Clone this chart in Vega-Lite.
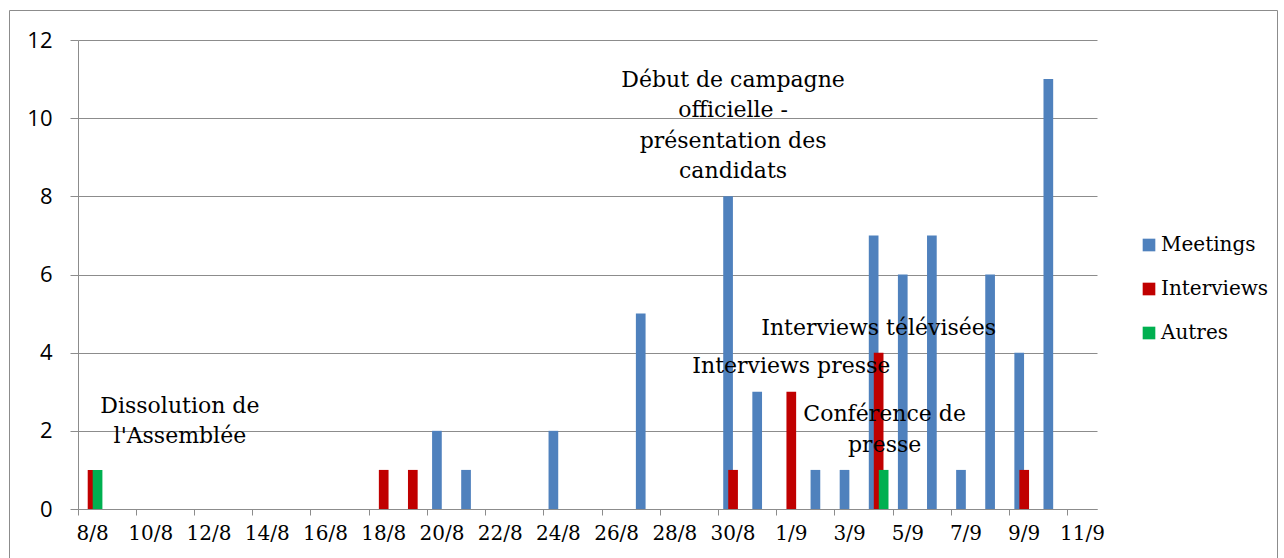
{
  "$schema": "https://vega.github.io/schema/vega-lite/v6.json",
  "autosize": {"type": "none"},
  "padding": {"left": 9, "top": 10, "right": 7, "bottom": -5},
  "width": 1268,
  "height": 553,
  "background": "white",
  "config": {
    "view": {"stroke": "#8c8c8c", "strokeWidth": 1},
    "font": "DejaVu Serif"
  },
  "datasets": {
    "bars": [
      {"date": "20/8", "serie": "Meetings", "value": 2},
      {"date": "21/8", "serie": "Meetings", "value": 1},
      {"date": "24/8", "serie": "Meetings", "value": 2},
      {"date": "27/8", "serie": "Meetings", "value": 5},
      {"date": "30/8", "serie": "Meetings", "value": 8},
      {"date": "31/8", "serie": "Meetings", "value": 3},
      {"date": "2/9", "serie": "Meetings", "value": 1},
      {"date": "3/9", "serie": "Meetings", "value": 1},
      {"date": "4/9", "serie": "Meetings", "value": 7},
      {"date": "5/9", "serie": "Meetings", "value": 6},
      {"date": "6/9", "serie": "Meetings", "value": 7},
      {"date": "7/9", "serie": "Meetings", "value": 1},
      {"date": "8/9", "serie": "Meetings", "value": 6},
      {"date": "9/9", "serie": "Meetings", "value": 4},
      {"date": "10/9", "serie": "Meetings", "value": 11},
      {"date": "8/8", "serie": "Interviews", "value": 1},
      {"date": "18/8", "serie": "Interviews", "value": 1},
      {"date": "19/8", "serie": "Interviews", "value": 1},
      {"date": "30/8", "serie": "Interviews", "value": 1},
      {"date": "1/9", "serie": "Interviews", "value": 3},
      {"date": "4/9", "serie": "Interviews", "value": 4},
      {"date": "9/9", "serie": "Interviews", "value": 1},
      {"date": "8/8", "serie": "Autres", "value": 1},
      {"date": "4/9", "serie": "Autres", "value": 1}
    ],
    "notes": [
      {"date": "11/8", "y": 2.46, "label": "Dissolution de\nl'Assemblée"},
      {"date": "30/8", "y": 10.8, "label": "Début de campagne\nofficielle -\nprésentation des\ncandidats"},
      {"date": "4/9", "y": 4.45, "label": "Interviews télévisées"},
      {"date": "1/9", "y": 3.48, "label": "Interviews presse"}
    ],
    "notes2": [
      {"date": "4/9", "y": 2.25, "label": "Conférence de\npresse"}
    ]
  },
  "layer": [
    {
      "data": {"name": "bars"},
      "transform": [{"filter": "datum.serie == 'Meetings'"}],
      "mark": {"type": "bar", "width": {"band": 0.333}, "xOffset": -5},
      "encoding": {
        "x": {
          "field": "date", "type": "ordinal",
          "scale": {
            "domain": ["8/8","9/8","10/8","11/8","12/8","13/8","14/8","15/8","16/8","17/8","18/8","19/8","20/8","21/8","22/8","23/8","24/8","25/8","26/8","27/8","28/8","29/8","30/8","31/8","1/9","2/9","3/9","4/9","5/9","6/9","7/9","8/9","9/9","10/9","11/9"],
            "range": [69, 1088], "paddingInner": 0, "paddingOuter": 0
          },
          "axis": {
            "orient": "bottom", "offset": -54, "title": null,
            "values": ["8/8","10/8","12/8","14/8","16/8","18/8","20/8","22/8","24/8","26/8","28/8","30/8","1/9","3/9","5/9","7/9","9/9","11/9"],
            "bandPosition": 0,
            "tickSize": 6, "tickColor": "#8c8c8c",
            "domainColor": "#8c8c8c", "labelAngle": 0,
            "labelFont": "DejaVu Serif", "labelFontSize": 20, "labelColor": "#000000",
            "labelPadding": 8, "grid": false
          }
        },
        "y": {
          "field": "value", "type": "quantitative",
          "scale": {"domain": [0, 12], "range": [499, 30], "nice": false, "zero": true},
          "axis": {
            "orient": "left", "offset": -69, "title": null,
            "values": [0, 2, 4, 6, 8, 10, 12],
            "grid": true, "gridColor": "#8c8c8c", "domainColor": "#8c8c8c",
            "tickColor": "#8c8c8c", "tickSize": 8,
            "labelFont": "Open Sans", "labelFontSize": 22, "labelColor": "#000000",
            "labelPadding": 18
          }
        },
        "color": {
          "field": "serie", "type": "nominal",
          "scale": {"domain": ["Meetings", "Interviews", "Autres"], "range": ["#4F81BD", "#C00000", "#00B050"]},
          "legend": {
            "orient": "none", "legendX": 1130, "legendY": 225, "title": null,
            "symbolType": "square", "symbolSize": 160, "symbolStrokeWidth": 0,
            "labelFont": "DejaVu Serif", "labelFontSize": 20, "labelColor": "#000000",
            "rowPadding": 24, "labelOffset": 2
          }
        }
      }
    },
    {
      "data": {"name": "bars"},
      "transform": [{"filter": "datum.serie == 'Interviews'"}],
      "mark": {"type": "bar", "width": {"band": 0.333}, "xOffset": 0},
      "encoding": {
        "x": {"field": "date", "type": "ordinal"},
        "y": {"field": "value", "type": "quantitative"},
        "color": {"field": "serie", "type": "nominal"}
      }
    },
    {
      "data": {"name": "bars"},
      "transform": [{"filter": "datum.serie == 'Autres'"}],
      "mark": {"type": "bar", "width": {"band": 0.333}, "xOffset": 5},
      "encoding": {
        "x": {"field": "date", "type": "ordinal"},
        "y": {"field": "value", "type": "quantitative"},
        "color": {"field": "serie", "type": "nominal"}
      }
    },
    {
      "data": {"name": "notes"},
      "mark": {"type": "text", "lineBreak": "\n", "font": "DejaVu Serif", "fontSize": 22, "lineHeight": 30.5, "baseline": "alphabetic", "align": "center", "color": "#000000"},
      "encoding": {
        "x": {"field": "date", "type": "ordinal"},
        "y": {"field": "y", "type": "quantitative"},
        "text": {"field": "label"}
      }
    },
    {
      "data": {"name": "notes2"},
      "mark": {"type": "text", "lineBreak": "\n", "font": "DejaVu Serif", "fontSize": 22, "lineHeight": 30.5, "baseline": "alphabetic", "align": "center", "color": "#000000", "dx": 6},
      "encoding": {
        "x": {"field": "date", "type": "ordinal"},
        "y": {"field": "y", "type": "quantitative"},
        "text": {"field": "label"}
      }
    }
  ]
}
